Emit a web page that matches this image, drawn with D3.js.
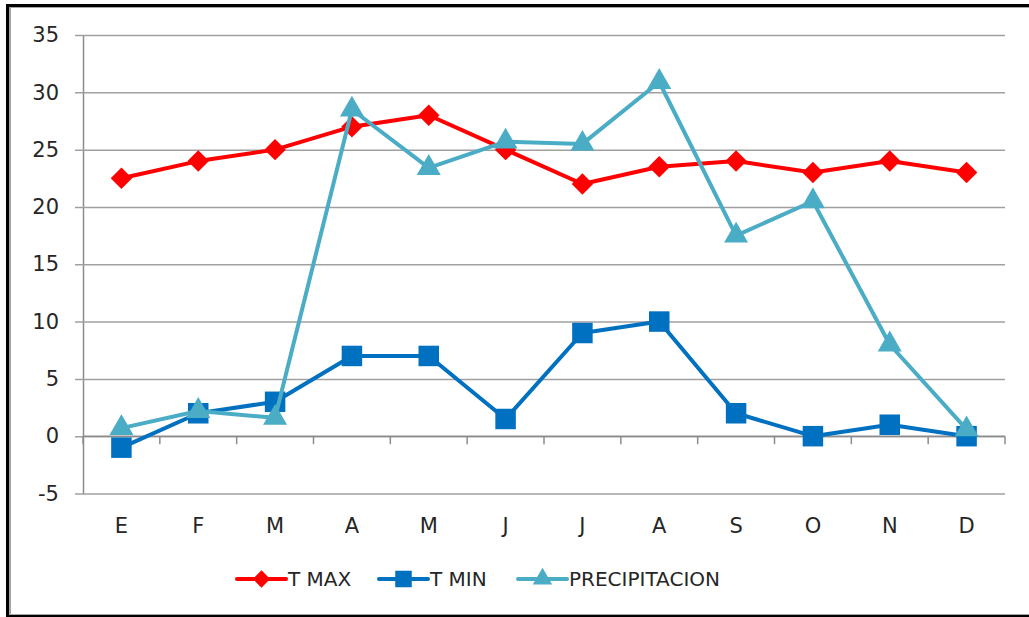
<!DOCTYPE html>
<html>
<head>
<meta charset="utf-8">
<script src="https://cdn.jsdelivr.net/npm/d3@7"></script>
<style>
  html, body { margin: 0; padding: 0; background: #fff; }
  svg { display: block; font-family: "DejaVu Sans", sans-serif; }
</style>
</head>
<body>
<div id="chart"></div>
<script>
// Climate chart: T MAX / T MIN / PRECIPITACION by month.
var months = ["E", "F", "M", "A", "M", "J", "J", "A", "S", "O", "N", "D"];
var tMax = [22.5, 24, 25, 27, 28, 25, 22, 23.5, 24, 23, 24, 23];
var tMin = [-1, 2, 3, 7, 7, 1.5, 9, 10, 2, 0, 1, 0];
var precip = [0.7, 2.2, 1.6, 28.5, 23.4, 25.7, 25.5, 30.9, 17.5, 20.5, 8, 0.6];
var yTicks = [-5, 0, 5, 10, 15, 20, 25, 30, 35];
var seriesNames = ["T MAX", "T MIN", "PRECIPITACION"];

(function () {
    "use strict";
    var W = 1029, H = 617;
    var m = { top: 35, right: 24, bottom: 123.5, left: 83 };
    var svg = d3.select("#chart").append("svg").attr("width", W).attr("height", H);

    // outer frame (heavy dark left/top, light gray bottom)
    svg.append("rect").attr("x", 6).attr("y", 4).attr("width", W).attr("height", H).attr("fill", "#000");
    svg.append("rect").attr("x", 9).attr("y", 7).attr("width", W).attr("height", 608).attr("fill", "#a6a6a6");
    svg.append("rect").attr("x", 11).attr("y", 8).attr("width", W).attr("height", 606).attr("fill", "#fff");

    var x = d3.scaleBand().domain(d3.range(months.length))
        .range([m.left, W - m.right]).padding(0);
    var y = d3.scaleLinear().domain([-5, 35]).range([H - m.bottom, m.top]);
    var cx = function (i) { return x(i) + x.bandwidth() / 2; };

    // horizontal gridlines + y labels
    var ya = svg.append("g").attr("transform", "translate(" + m.left + ",0)")
        .call(d3.axisLeft(y).tickValues(yTicks).tickSize(8).tickPadding(16)
            .tickSizeOuter(0).tickFormat(function (d) { return String(d); }));
    ya.select(".domain").attr("stroke", "#8c8c8c").attr("stroke-width", 1.5);
    ya.selectAll(".tick line").attr("x2", W - m.right - m.left).attr("x1", -8)
        .attr("stroke", "#a0a0a0").attr("stroke-width", 1.5);
    ya.selectAll("text").style("font-size", "21px").style("fill", "#262626")
        .attr("font-family", "DejaVu Sans");

    // x axis crosses at 0, ticks down at category boundaries
    var xa = svg.append("g").attr("transform", "translate(0," + y(0) + ")");
    xa.append("line").attr("x1", m.left).attr("x2", W - m.right)
        .attr("stroke", "#8c8c8c").attr("stroke-width", 1.5);
    xa.selectAll("line.tk").data(d3.range(months.length + 1)).enter().append("line")
        .attr("class", "tk")
        .attr("x1", function (i) { return i < months.length ? x(i) : W - m.right; })
        .attr("x2", function (i) { return i < months.length ? x(i) : W - m.right; })
        .attr("y1", 0).attr("y2", 8).attr("stroke", "#8c8c8c").attr("stroke-width", 1.5);

    svg.selectAll("text.cat").data(months).enter().append("text").attr("class", "cat")
        .attr("x", function (d, i) { return cx(i); }).attr("y", 533)
        .attr("text-anchor", "middle").style("font-size", "21px").style("fill", "#262626")
        .text(function (d) { return d; });

    var line = d3.line().x(function (d, i) { return cx(i); }).y(function (d) { return y(d); });
    // diamond = square rotated 45deg
    var series = [
        { name: seriesNames[0], values: tMax, color: "#ff0000", sym: d3.symbolSquare, size: 230, rot: 45 },
        { name: seriesNames[1], values: tMin, color: "#0070c0", sym: d3.symbolSquare, size: 420, rot: 0 },
        { name: seriesNames[2], values: precip, color: "#4bacc6", sym: d3.symbolTriangle, size: 250, rot: 0 }
    ];

    series.forEach(function (s) {
        svg.append("path").datum(s.values).attr("d", line).attr("fill", "none")
            .attr("stroke", s.color).attr("stroke-width", 4).attr("stroke-linejoin", "round");
        svg.selectAll(null).data(s.values).enter().append("path")
            .attr("d", d3.symbol().type(s.sym).size(s.size))
            .attr("transform", function (d, i) {
                return "translate(" + cx(i) + "," + y(d) + ") rotate(" + s.rot + ")";
            })
            .attr("fill", s.color);
    });

    // legend
    var legX = [237, 379, 518];
    var lg = svg.append("g").attr("transform", "translate(0,579)");
    series.forEach(function (s, i) {
        var g = lg.append("g").attr("transform", "translate(" + legX[i] + ",0)");
        g.append("line").attr("x1", 0).attr("x2", 49).attr("stroke", s.color)
            .attr("stroke-width", 4).attr("stroke-linecap", "round");
        g.append("path").attr("d", d3.symbol().type(s.sym).size(s.size * 0.65))
            .attr("transform", "translate(24.5,0) rotate(" + s.rot + ")").attr("fill", s.color);
        g.append("text").attr("x", 51).attr("y", 0).attr("dy", "0.36em")
            .style("font-size", "20px").style("fill", "#262626").text(s.name);
    });
})();
</script>
</body>
</html>
